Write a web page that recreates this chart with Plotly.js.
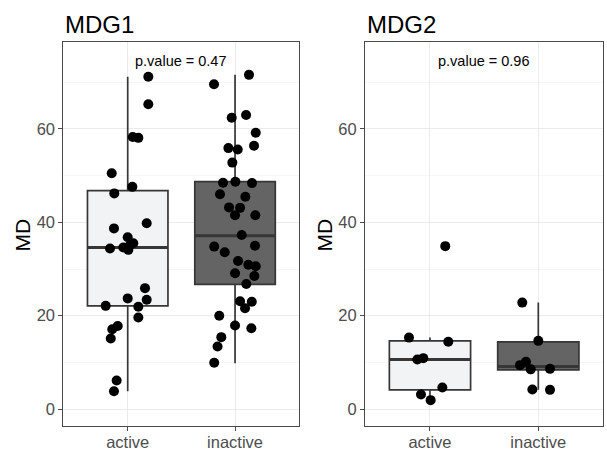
<!DOCTYPE html>
<html>
<head>
<meta charset="utf-8">
<script src="https://cdn.plot.ly/plotly-3.0.1.min.js"></script>
<style>html,body{margin:0;padding:0;background:#fff;}#chart{width:607px;height:453px;}</style>
</head>
<body>
<div id="chart"></div>
<script>
// ---- data ----
var categories = ["active", "inactive"];
var panelTitles = ["MDG1", "MDG2"];
var pValues = ["p.value = 0.47", "p.value = 0.96"];
var yTitle = "MD";

// MDG1
var mdg1Active = [71.2, 65.3, 58.3, 58.1, 50.5, 47.6, 46.2, 39.8, 38.7, 36.8, 35.1, 35.5, 34.6, 34.1, 34.4, 25.9, 23.4, 23.7, 22.1, 21.9, 19.6, 17.8, 17.1, 15.1, 6.1, 3.8];
var mdg1ActiveJitter = [0.192, 0.192, 0.047, 0.099, -0.149, 0.043, -0.125, 0.177, -0.128, 0, 0.021, 0.052, -0.041, 0.006, -0.165, 0.161, 0.177, 0, -0.205, 0.099, 0.099, -0.093, -0.144, -0.158, -0.103, -0.128];
var mdg1Inactive = [71.6, 69.6, 63.0, 62.4, 59.2, 56.4, 55.9, 55.6, 52.8, 48.5, 48.7, 48.4, 46.0, 45.5, 43.2, 43.1, 41.5, 41.5, 37.3, 34.8, 33.6, 35.0, 31.7, 30.9, 30.6, 29.1, 28.5, 26.8, 23.1, 23.0, 21.6, 20.0, 17.9, 17.3, 15.4, 13.4, 9.9];
var mdg1InactiveJitter = [0.130, -0.196, 0.103, -0.031, 0.193, 0.177, -0.062, 0.025, -0.025, -0.112, 0.003, 0.158, -0.140, 0.096, -0.056, 0.047, 0, 0.189, 0.062, -0.194, -0.096, 0.186, 0.028, 0.124, 0.193, 0, 0.180, 0.105, 0.047, 0.156, 0.093, -0.147, 0, 0.152, -0.128, -0.163, -0.194];

// MDG2
var mdg2Active = [34.9, 15.3, 14.4, 10.6, 10.9, 4.6, 3.1, 1.9];
var mdg2ActiveJitter = [0.141, -0.194, 0.169, -0.117, -0.062, 0.114, -0.083, 0.006];
var mdg2Inactive = [22.8, 14.6, 9.4, 10.1, 8.5, 8.6, 4.2, 4.1];
var mdg2InactiveJitter = [-0.148, 0, -0.169, -0.114, -0.070, 0.108, -0.055, 0.108];

// box statistics (active, inactive) as drawn in the reference
var mdg1Q1 = [22.1, 26.7], mdg1Median = [34.6, 37.1], mdg1Q3 = [46.8, 48.7], mdg1Lower = [3.8, 9.8], mdg1Upper = [71.2, 71.6];
var mdg2Q1 = [4.1, 8.4], mdg2Median = [10.6, 9.1], mdg2Q3 = [14.6, 14.4], mdg2Lower = [1.9, 4.1], mdg2Upper = [15.3, 22.8];

// ---- styling ----
var FONT = "Liberation Sans, Arial, sans-serif";
var fills = ["#f2f3f5", "#646464"];
var boxLine = "#363636";
var BOXW = 0.75;

function boxTrace(i, q1, med, q3, lo, hi, xa, ya) {
  return {
    type: "box", x: [i + 1], q1: [q1[i]], median: [med[i]], q3: [q3[i]],
    lowerfence: [lo[i]], upperfence: [hi[i]],
    width: BOXW, whiskerwidth: 0, fillcolor: fills[i],
    line: { color: boxLine, width: 1.7 }, boxpoints: false,
    xaxis: xa, yaxis: ya, showlegend: false, hoverinfo: "skip"
  };
}
function medianTrace(i, med, xa, ya) {
  return {
    type: "scatter", mode: "lines",
    x: [i + 1 - BOXW / 2, i + 1 + BOXW / 2], y: [med[i], med[i]],
    line: { color: boxLine, width: 3 },
    xaxis: xa, yaxis: ya, showlegend: false, hoverinfo: "skip"
  };
}
function pts(pos, vals, jit, xa, ya) {
  return {
    type: "scatter", mode: "markers",
    x: vals.map(function (v, k) { return pos + jit[k]; }), y: vals,
    marker: { color: "#000", size: 10 },
    xaxis: xa, yaxis: ya, showlegend: false, hoverinfo: "skip"
  };
}

var traces = [
  boxTrace(0, mdg1Q1, mdg1Median, mdg1Q3, mdg1Lower, mdg1Upper, "x", "y"),
  boxTrace(1, mdg1Q1, mdg1Median, mdg1Q3, mdg1Lower, mdg1Upper, "x", "y"),
  boxTrace(0, mdg2Q1, mdg2Median, mdg2Q3, mdg2Lower, mdg2Upper, "x2", "y2"),
  boxTrace(1, mdg2Q1, mdg2Median, mdg2Q3, mdg2Lower, mdg2Upper, "x2", "y2"),
  medianTrace(0, mdg1Median, "x", "y"),
  medianTrace(1, mdg1Median, "x", "y"),
  medianTrace(0, mdg2Median, "x2", "y2"),
  medianTrace(1, mdg2Median, "x2", "y2"),
  pts(1, mdg1Active, mdg1ActiveJitter, "x", "y"),
  pts(2, mdg1Inactive, mdg1InactiveJitter, "x", "y"),
  pts(1, mdg2Active, mdg2ActiveJitter, "x2", "y2"),
  pts(2, mdg2Inactive, mdg2InactiveJitter, "x2", "y2")
];

function xAxis(domain, anchor) {
  return {
    domain: domain, anchor: anchor, range: [0.4, 2.6], tickvals: [1, 2], ticktext: categories,
    showgrid: true, gridcolor: "#ebebeb", gridwidth: 1, zeroline: false,
    showline: true, mirror: true, linecolor: "#4a4a4a", linewidth: 1,
    ticks: "outside", ticklen: 4, tickcolor: "#4a4a4a", ticklabelstandoff: -3,
    tickfont: { family: FONT, size: 16.5, color: "#4d4d4d" }, fixedrange: true
  };
}
function yAxis(anchor) {
  return {
    domain: [0.0596, 0.9073], anchor: anchor, range: [-3.64, 78.64], tick0: 0, dtick: 20,
    showgrid: true, gridcolor: "#ebebeb", gridwidth: 1, zeroline: false,
    minor: { dtick: 10, tick0: 0, showgrid: true, gridcolor: "#f3f3f3", gridwidth: 0.7, ticks: "" },
    showline: true, mirror: true, linecolor: "#4a4a4a", linewidth: 1,
    ticks: "outside", ticklen: 4, tickcolor: "#4a4a4a",
    tickfont: { family: FONT, size: 16.5, color: "#4d4d4d" },
    fixedrange: true
  };
}

var layout = {
  width: 607, height: 453,
  margin: { l: 0, r: 0, t: 0, b: 0 },
  paper_bgcolor: "#fff", plot_bgcolor: "#fff",
  font: { family: FONT },
  showlegend: false,
  xaxis: xAxis([0.1043, 0.4933], "y"),
  yaxis: yAxis("x"),
  xaxis2: xAxis([0.6013, 0.9939], "y2"),
  yaxis2: yAxis("x2"),
  annotations: [
    { text: panelTitles[0], xref: "paper", yref: "paper", x: 0.1043, y: 0.945, xanchor: "left", yanchor: "middle", showarrow: false, font: { family: FONT, size: 24, color: "#000" } },
    { text: panelTitles[1], xref: "paper", yref: "paper", x: 0.6013, y: 0.945, xanchor: "left", yanchor: "middle", showarrow: false, font: { family: FONT, size: 24, color: "#000" } },
    { text: pValues[0], xref: "x", yref: "y", x: 1.5, y: 74.6, showarrow: false, font: { family: FONT, size: 14.5, color: "#000" } },
    { text: pValues[1], xref: "x2", yref: "y2", x: 1.5, y: 74.6, showarrow: false, font: { family: FONT, size: 14.5, color: "#000" } },
    { text: yTitle, xref: "paper", yref: "paper", x: 22.5 / 607, y: 0.481, textangle: -90, xanchor: "center", yanchor: "middle", showarrow: false, font: { family: FONT, size: 21, color: "#000" } },
    { text: yTitle, xref: "paper", yref: "paper", x: 324.5 / 607, y: 0.481, textangle: -90, xanchor: "center", yanchor: "middle", showarrow: false, font: { family: FONT, size: 21, color: "#000" } }
  ]
};

Plotly.newPlot("chart", traces, layout, { displayModeBar: false, staticPlot: true });
</script>
</body>
</html>
